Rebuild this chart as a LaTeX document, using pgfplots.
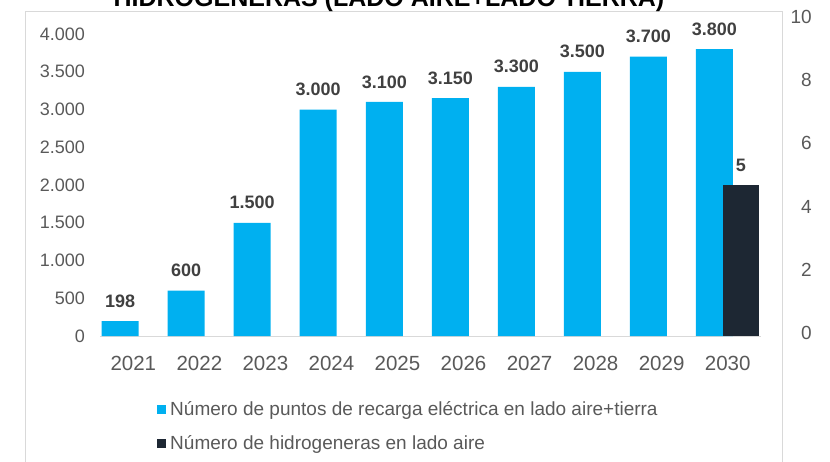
\documentclass[border=0pt]{standalone}
\usepackage{fontspec}
\setmainfont{Liberation Sans}
\usepackage{pgfplots}
\pgfplotsset{compat=1.18}

\definecolor{barblue}{HTML}{00B0F0}
\definecolor{bardark}{HTML}{1D2733}
\definecolor{ticktext}{HTML}{595959}
\definecolor{valtext}{HTML}{404040}
\definecolor{framegray}{HTML}{D9D9D9}

\pgfplotsset{/pgf/number format/.cd, 1000 sep={.}, assume math mode=true}

\begin{document}
\begin{tikzpicture}[x=1pt,y=1pt]
\path[use as bounding box] (0,0) rectangle (830,461);
\clip (0,0) rectangle (830,461);

% chart frame and (cut) title
\draw[framegray, line width=1pt] (25,449.5) rectangle (782,-10);
\node[anchor=base, inner sep=0pt, font=\fontsize{25}{30}\selectfont\bfseries] at (389,454)
  {HIDROGENERAS (LADO AIRE+LADO TIERRA)};

% main axis: charging points (left scale)
\begin{axis}[
    at={(100.3pt,125pt)}, anchor=south west,
    scale only axis, width=660.4pt, height=302pt,
    xmin=-0.5, xmax=9.5, ymin=0, ymax=4000,
    separate axis lines,
    axis x line*=bottom, axis y line*=left,
    x axis line style={draw=framegray, line width=1pt},
    y axis line style={draw=none},
    major tick length=0pt,
    xtick={0,...,9},
    xticklabels={2021,2022,2023,2024,2025,2026,2027,2028,2029,2030},
    ytick={0,500,...,4000},
    xticklabel style={font=\fontsize{20.5}{24}\selectfont, text=ticktext,
        anchor=north, inner sep=0pt, yshift=-20pt},
    yticklabel style={font=\fontsize{18}{21}\selectfont, text=ticktext,
        anchor=east, inner sep=0pt, xshift=-15.3pt},
    legend style={at={(0.0853,-0.210)}, anchor=north west, draw=none, fill=none,
        inner sep=0pt, font=\fontsize{19}{23}\selectfont, text=ticktext,
        row sep=14.5pt, cells={anchor=west}},
    legend cell align=left,
]
\addplot[ybar, fill=barblue, draw=none, bar width=37pt, bar shift=-13.2pt,
    nodes near coords,
    nodes near coords style={font=\fontsize{18}{21}\selectfont\bfseries,
        text=valtext, anchor=south, inner sep=0pt, yshift=13.5pt, xshift=-13.2pt},
    legend image code/.code={\fill[barblue] (0pt,-4.25pt) rectangle (8.5pt,4.25pt);
        \path (11pt,0pt);}]
coordinates {
    (0,198) (1,600) (2,1500) (3,3000) (4,3100)
    (5,3150) (6,3300) (7,3500) (8,3700) (9,3800)
};
\addlegendentry{Número de puntos de recarga eléctrica en lado aire+tierra}
\addlegendimage{legend image code/.code={\fill[bardark] (0pt,-4.25pt) rectangle (8.5pt,4.25pt);
    \path (11pt,0pt);}}
\addlegendentry{Número de hidrogeneras en lado aire}
\end{axis}

% secondary series: hydrogen stations (0-10 scale on the plot area)
\begin{axis}[
    at={(100.3pt,125pt)}, anchor=south west,
    scale only axis, width=660.4pt, height=302pt,
    xmin=-0.5, xmax=9.5, ymin=0, ymax=10,
    hide axis,
]
\addplot[ybar, fill=bardark, draw=none, bar width=36.6pt, bar shift=13.3pt,
    nodes near coords,
    nodes near coords style={font=\fontsize{18}{21}\selectfont\bfseries,
        text=valtext, anchor=south, inner sep=0pt, yshift=13.5pt, xshift=13.3pt}]
coordinates {(9,5)};
\end{axis}

% right-hand scale labels
\begin{axis}[
    at={(100.3pt,128pt)}, anchor=south west,
    scale only axis, width=660.4pt, height=316.3pt,
    xmin=-0.5, xmax=9.5, ymin=0, ymax=10,
    axis line style={draw=none},
    major tick length=0pt,
    xtick=\empty,
    ytick={0,2,...,10},
    yticklabel pos=right,
    yticklabel style={font=\fontsize{19}{22}\selectfont, text=ticktext,
        anchor=east, inner sep=0pt, xshift=51.3pt},
]
\end{axis}
\end{tikzpicture}
\end{document}
